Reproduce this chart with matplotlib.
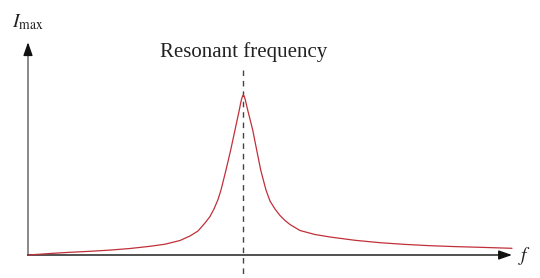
import matplotlib
matplotlib.use('Agg')
import matplotlib.pyplot as plt

# Точки кривої резонансу (довільні одиниці)
freq = [0.0, 2.48, 5.17, 8.68, 12.81, 16.94, 21.07, 25.21, 28.31, 31.40,
        33.47, 35.12, 36.57, 37.60, 38.43, 39.26, 39.88, 40.91, 41.88, 42.77,
        43.66, 43.90, 44.11, 44.32, 44.48, 44.67, 44.88, 45.10, 45.39, 46.43,
        47.25, 48.08, 49.17, 50.00, 51.03, 52.07, 53.10, 54.13, 56.20, 59.30,
        62.40, 67.56, 72.73, 77.89, 83.06, 88.22, 93.39, 100.0]
current = [0.0, 0.50, 1.06, 1.69, 2.31, 3.06, 4.06, 5.44, 6.75, 9.06,
           11.88, 15.00, 20.00, 24.06, 28.75, 34.69, 40.63, 53.13, 65.63, 78.13,
           90.63, 94.38, 97.19, 99.25, 100.0, 99.25, 97.19, 94.38, 90.63, 78.13,
           65.63, 53.13, 40.63, 33.75, 28.75, 24.69, 21.56, 19.06, 15.31, 12.81,
           11.25, 9.19, 7.69, 6.63, 5.81, 5.25, 4.81, 4.19]
f_res = 44.48
x_end = 100.0
y_end = 133.0

plt.rcParams['mathtext.fontset'] = 'stix'
serif = ['Liberation Serif', 'DejaVu Serif']

fig = plt.figure(figsize=(5.4, 2.78), dpi=100)
ax = fig.add_axes([0, 0, 1, 1])
ax.set_xlim(-5.785, 105.79)
ax.set_ylim(-14.375, 159.375)
ax.axis('off')

# Осі: лінії і стрілки
arrow = dict(arrowstyle='-|>,head_length=0.8,head_width=0.28',
             color='#111111', lw=1.0, shrinkA=0, shrinkB=0)
ax.plot([0, 0], [0, y_end - 4], color='#6a6a6a', lw=1.1)
ax.plot([0, x_end - 2], [0, 0], color='#222222', lw=1.1)
ax.annotate('', xy=(0, y_end), xytext=(0, y_end - 4), arrowprops=arrow)
ax.annotate('', xy=(x_end, 0), xytext=(x_end - 2, 0), arrowprops=arrow)

# Резонансна частота
ax.plot([f_res, f_res], [115.6, -15], color='#444444', lw=1.0,
        dashes=(4, 3.5))
ax.plot(freq, current, color='#c0303a', lw=0.9, solid_capstyle='round',
        solid_joinstyle='round')

ax.text(f_res, 126.9, 'Resonant frequency', ha='center', va='center',
        fontsize=15, family=serif, color='#222222')
ax.text(0, 145.6, r'$I_{\mathrm{max}}$', ha='center', va='center',
        fontsize=14, color='#222222')
ax.text(102.7, -0.6, r'$f$', ha='center', va='center',
        fontsize=14, color='#222222')

fig.savefig('out.png', dpi=100)
